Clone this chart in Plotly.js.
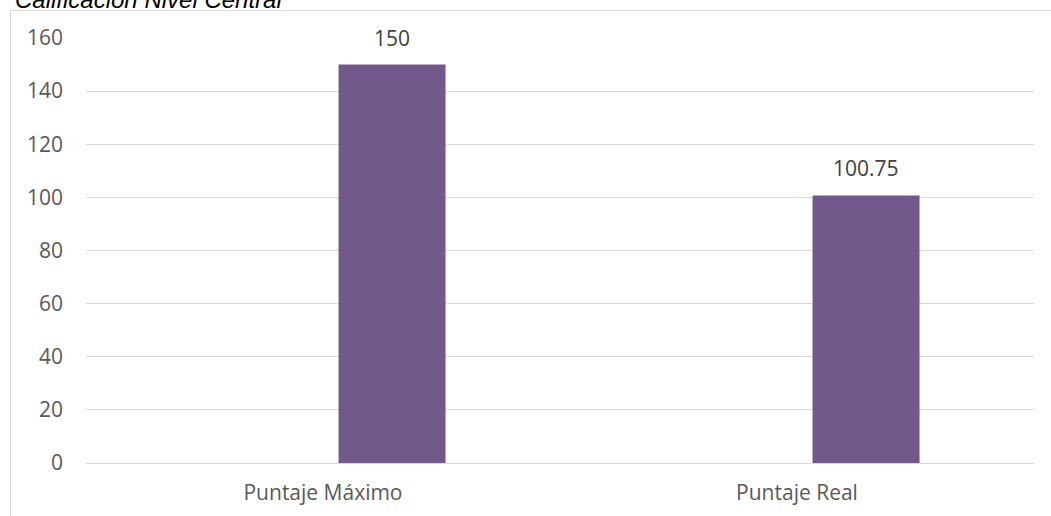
<!DOCTYPE html>
<html>
<head>
<meta charset="utf-8">
<script src="https://cdn.plot.ly/plotly-3.0.1.min.js"></script>
<style>
  html, body { margin: 0; padding: 0; background: #ffffff; }
  #wrap { position: relative; width: 1051px; height: 516px; overflow: hidden; }
  #frame { position: absolute; left: 10px; top: 10px; width: 1045px; height: 520px;
           border-left: 1px solid #d9d9d9; border-top: 1px solid #d9d9d9; }
  #chart { position: absolute; left: 0; top: 0; width: 1051px; height: 516px; }
</style>
</head>
<body>
<div id="wrap">
  <div id="frame"></div>
  <div id="chart"></div>
</div>
<script>
const categories = ["Puntaje Máximo", "Puntaje Real"];
const values = [150, 100.75];
const valueLabels = ["150", "100.75"];
const yTicks = [0, 20, 40, 60, 80, 100, 120, 140, 160];
const chartTitle = "Calificación Nivel Central";

const textColor = "#595959";
const fontFamily = "'Open Sans', 'Liberation Sans', sans-serif";

const trace = {
  type: "bar",
  x: categories,
  y: values,
  width: 0.2257,
  offset: 0.0328,
  marker: { color: "#71598C" },
  hoverinfo: "x+y"
};

const annotations = categories.map((c, i) => ({
  xref: "x", yref: "y",
  x: c, y: values[i],
  text: valueLabels[i],
  showarrow: false,
  xshift: 69,
  yshift: 11,
  yanchor: "bottom",
  font: { family: fontFamily, size: 21, color: "#404040" }
}));

const layout = {
  width: 1051,
  height: 516,
  margin: { l: 86, r: 17, t: 38, b: 53 },
  paper_bgcolor: "rgba(0,0,0,0)",
  plot_bgcolor: "rgba(0,0,0,0)",
  showlegend: false,
  title: {
    text: "<i>" + chartTitle + "</i>",
    xref: "container", yref: "container",
    x: 15 / 1051, xanchor: "left",
    y: 1.0, yanchor: "middle",
    font: { family: "'Liberation Sans', Arial, sans-serif", size: 24, color: "#000000" }
  },
  xaxis: {
    type: "category",
    showgrid: false,
    showline: false,
    zeroline: false,
    ticks: "",
    ticklabelstandoff: 15,
    tickfont: { family: fontFamily, size: 21, color: textColor }
  },
  yaxis: {
    range: [0, 160],
    tickvals: yTicks,
    ticktext: yTicks.map(String),
    showgrid: true,
    gridcolor: "#d9d9d9",
    gridwidth: 1,
    zeroline: true,
    zerolinecolor: "#d9d9d9",
    zerolinewidth: 1,
    showline: false,
    ticks: "",
    ticklabelstandoff: 22,
    tickfont: { family: fontFamily, size: 21, color: textColor }
  },
  annotations: annotations
};

Plotly.newPlot("chart", [trace], layout, { displayModeBar: false, staticPlot: true });
</script>
</body>
</html>
